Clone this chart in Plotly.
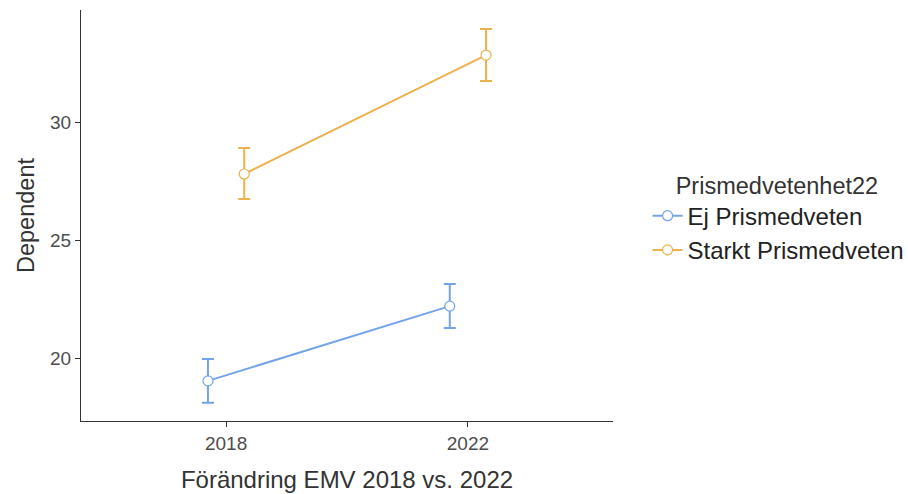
import plotly.graph_objects as go

years = ["2018", "2022"]
groups = ["Ej Prismedveten", "Starkt Prismedveten"]
means = {
    "Ej Prismedveten": [19.03, 22.2],
    "Starkt Prismedveten": [27.8, 32.84],
}
upper = {
    "Ej Prismedveten": [19.96, 23.14],
    "Starkt Prismedveten": [28.9, 33.94],
}
lower = {
    "Ej Prismedveten": [18.1, 21.27],
    "Starkt Prismedveten": [26.74, 31.74],
}
colors = {"Ej Prismedveten": "#74a3ea", "Starkt Prismedveten": "#ecb24e"}
dodge = {"Ej Prismedveten": -0.075, "Starkt Prismedveten": 0.075}

fig = go.Figure()
for g in groups:
    xs = [i + 1 + dodge[g] for i in range(len(years))]
    m = means[g]
    fig.add_trace(go.Scatter(
        x=xs, y=m, mode="lines+markers", name=g,
        line=dict(color=colors[g], width=2),
        marker=dict(size=10, color="white", line=dict(color=colors[g], width=1.2)),
        error_y=dict(type="data", symmetric=False,
                     array=[u - v for u, v in zip(upper[g], m)],
                     arrayminus=[v - l for v, l in zip(m, lower[g])],
                     color=colors[g], thickness=2, width=6),
    ))

font_family = "Liberation Sans, Arial, sans-serif"
fig.update_layout(
    width=908, height=494,
    margin=dict(l=81, r=295, t=10, b=73, autoexpand=False),
    plot_bgcolor="white", paper_bgcolor="white",
    font=dict(family=font_family, color="#4d4d4d"),
    showlegend=True,
    legend=dict(
        title=dict(text="\u00a0\u00a0\u00a0\u00a0Prismedvetenhet22", font=dict(size=23.5, color="#333333")),
        font=dict(size=24, color="#222222"),
        x=1.065, xanchor="left", y=0.495, yanchor="middle",
        tracegroupgap=0, itemwidth=30,
    ),
    xaxis=dict(
        range=[0.4, 2.6], tickvals=[1, 2], ticktext=years,
        showline=True, linecolor="#333333", linewidth=1.2,
        ticks="outside", ticklen=5, tickcolor="#333333",
        showgrid=False, zeroline=False,
        tickfont=dict(size=19, color="#4d4d4d"),
        title=dict(text="Förändring EMV 2018 vs. 2022", font=dict(size=24, color="#333333"), standoff=18),
    ),
    yaxis=dict(
        range=[17.33, 34.75], tickvals=[20, 25, 30],
        showline=True, linecolor="#333333", linewidth=1.2,
        ticks="outside", ticklen=5, tickcolor="#333333",
        showgrid=False, zeroline=False,
        tickfont=dict(size=19, color="#4d4d4d"),
        title=dict(text="Dependent", font=dict(size=23.5, color="#333333"), standoff=8),
    ),
)

fig.write_html("out.html")
